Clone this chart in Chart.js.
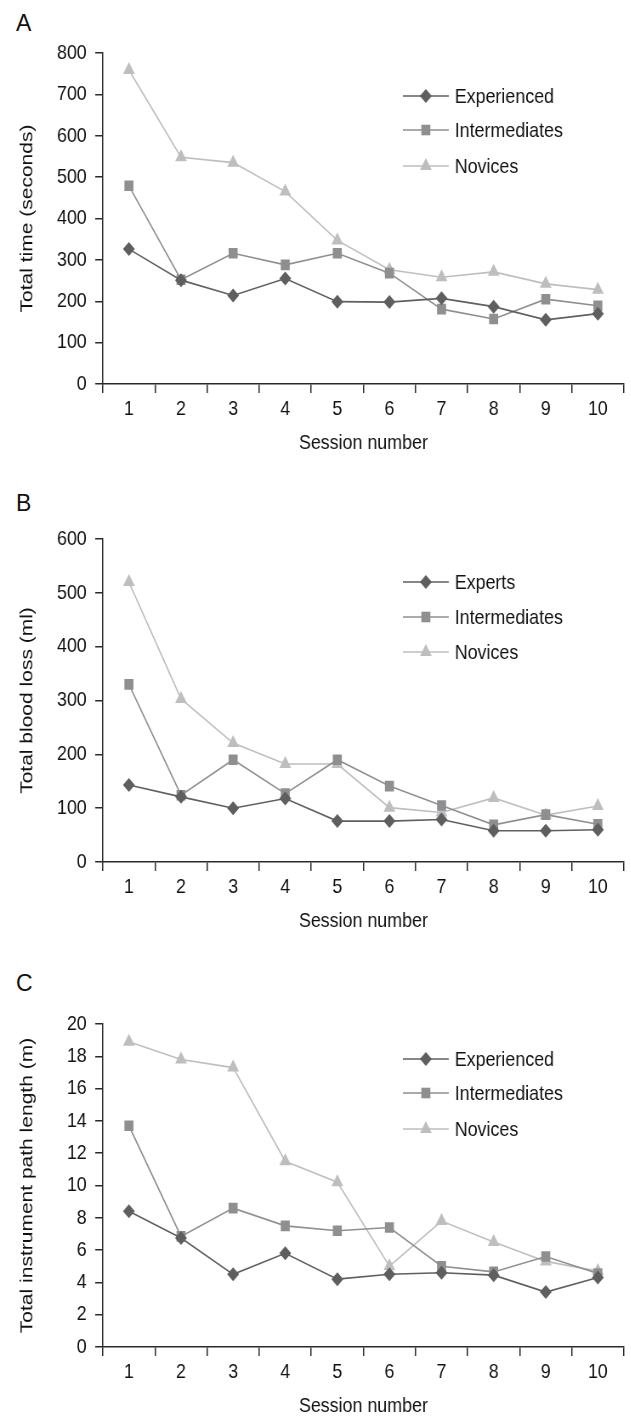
<!DOCTYPE html>
<html>
<head>
<meta charset="utf-8">
<script src="https://cdn.jsdelivr.net/npm/chart.js@4.4.1/dist/chart.umd.min.js"></script>
<style>
  body { margin: 0; background: #fff; width: 631px; height: 1417px; position: relative; overflow: hidden; font-family: "Liberation Sans", Arial, sans-serif; }
  .panel { position: absolute; left: 0; transform-origin: 0 0; transform: scaleX(0.85); }
  .letter { position: absolute; left: 16px; font-size: 23px; line-height: 23px; color: #111; }
</style>
</head>
<body>
<div class="letter" style="top:12px">A</div>
<div class="letter" style="top:492px">B</div>
<div class="letter" style="top:972px">C</div>
<canvas id="chartA" class="panel" width="742" height="470" style="top:0px"></canvas>
<canvas id="chartB" class="panel" width="742" height="478" style="top:470px"></canvas>
<canvas id="chartC" class="panel" width="742" height="503" style="top:930px"></canvas>
<script>
// session labels on the x axis
const sessions = ['1', '2', '3', '4', '5', '6', '7', '8', '9', '10'];

// A: total time (seconds)
const timeExperienced = [326, 251, 214, 255, 199, 198, 207, 187, 155, 170];
const timeIntermediates = [479, 252, 316, 288, 316, 268, 181, 157, 205, 189];
const timeNovices = [759, 548, 535, 465, 347, 276, 258, 271, 242, 228];

// B: total blood loss (ml)
const bloodExperts = [143, 121, 100, 118, 76, 76, 79, 58, 58, 60];
const bloodIntermediates = [330, 124, 190, 127, 190, 141, 105, 69, 88, 70];
const bloodNovices = [520, 303, 221, 182, 182, 101, 92, 119, 87, 104];

// C: total instrument path length (m)
const pathExperienced = [8.4, 6.75, 4.5, 5.8, 4.2, 4.5, 4.6, 4.45, 3.4, 4.3];
const pathIntermediates = [13.7, 6.85, 8.6, 7.5, 7.2, 7.4, 5.0, 4.65, 5.6, 4.55];
const pathNovices = [18.9, 17.8, 17.3, 11.5, 10.2, 5.0, 7.8, 6.5, 5.3, 4.7];

const darkGrey = '#5f5f61';
const midGrey = '#8f8f91';
const lightGrey = '#bebec0';
const axisColor = '#2a2a2a';
const textColor = '#111111';
const fontFamily = '"Liberation Sans", Arial, sans-serif';

// legend drawn inside the plot, line + marker + label
const insideLegend = {
    id: 'insideLegend',
    afterDraw(chart, args, opts) {
        const ctx = chart.ctx;
        ctx.save();
        chart.data.datasets.forEach((ds, i) => {
            const y = opts.rows[i];
            ctx.strokeStyle = ds.borderColor;
            ctx.lineWidth = ds.borderWidth;
            ctx.beginPath();
            ctx.moveTo(opts.x0, y);
            ctx.lineTo(opts.x1, y);
            ctx.stroke();
            ctx.fillStyle = ds.pointBackgroundColor;
            Chart.helpers.drawPoint(ctx, {
                pointStyle: ds.pointStyle,
                radius: ds.pointRadius,
                rotation: 0,
                borderWidth: 0
            }, (opts.x0 + opts.x1) / 2, y);
            ctx.fillStyle = textColor;
            ctx.font = '21px ' + fontFamily;
            ctx.textBaseline = 'middle';
            ctx.textAlign = 'left';
            ctx.fillText(ds.label, opts.tx, y + 1);
        });
        ctx.restore();
    }
};

function series(label, values, color, style, radius) {
    return {
        label: label,
        data: values,
        borderColor: color,
        backgroundColor: color,
        pointBackgroundColor: color,
        pointBorderWidth: 0,
        pointStyle: style,
        pointRadius: radius,
        borderWidth: 1.6,
        tension: 0
    };
}

function makeChart(id, cfg) {
    const ctx = document.getElementById(id);
    return new Chart(ctx, {
        type: 'line',
        data: {
            labels: sessions,
            datasets: [
                series(cfg.names[0], cfg.values[0], darkGrey, 'rectRot', 7),
                series(cfg.names[1], cfg.values[1], midGrey, 'rect', 7.5),
                series(cfg.names[2], cfg.values[2], lightGrey, 'triangle', 8)
            ]
        },
        options: {
            responsive: false,
            animation: false,
            events: [],
            layout: { padding: { top: cfg.top, right: 1, bottom: 0, left: 0 } },
            plugins: {
                legend: { display: false },
                tooltip: { enabled: false },
                insideLegend: { x0: 474, x1: 528, tx: 535, rows: cfg.rows }
            },
            scales: {
                x: {
                    offset: true,
                    border: { color: axisColor, width: 1.5 },
                    grid: { offset: true, drawOnChartArea: false, tickLength: 9, color: axisColor, lineWidth: 1.5 },
                    ticks: { color: textColor, font: { family: fontFamily, size: 21 }, padding: 4, maxRotation: 0 },
                    title: { display: true, text: 'Session number', color: textColor, font: { family: fontFamily, size: 21 }, padding: { top: 0, bottom: 14 } },
                    afterFit: s => { s.height = 86; }
                },
                y: {
                    min: 0,
                    max: cfg.max,
                    border: { color: axisColor, width: 1.5 },
                    grid: { drawOnChartArea: false, tickLength: 9, color: axisColor, lineWidth: 1.5 },
                    ticks: { stepSize: cfg.step, color: textColor, font: { family: fontFamily, size: 21 }, padding: 10 },
                    title: { display: true, text: cfg.yTitle, color: textColor, font: { family: fontFamily, size: 21 }, padding: { top: 20, bottom: 0 } },
                    afterFit: s => { s.width = 121; }
                }
            }
        },
        plugins: [insideLegend]
    });
}

makeChart('chartA', {
    names: ['Experienced', 'Intermediates', 'Novices'],
    values: [timeExperienced, timeIntermediates, timeNovices],
    yTitle: 'Total time (seconds)',
    max: 800, step: 100, top: 53,
    rows: [96, 130, 166]
});

makeChart('chartB', {
    names: ['Experts', 'Intermediates', 'Novices'],
    values: [bloodExperts, bloodIntermediates, bloodNovices],
    yTitle: 'Total blood loss (ml)',
    max: 600, step: 100, top: 69,
    rows: [112, 147, 182]
});

makeChart('chartC', {
    names: ['Experienced', 'Intermediates', 'Novices'],
    values: [pathExperienced, pathIntermediates, pathNovices],
    yTitle: 'Total instrument path length (m)',
    max: 20, step: 2, top: 94,
    rows: [129, 163, 199]
});
</script>
</body>
</html>
